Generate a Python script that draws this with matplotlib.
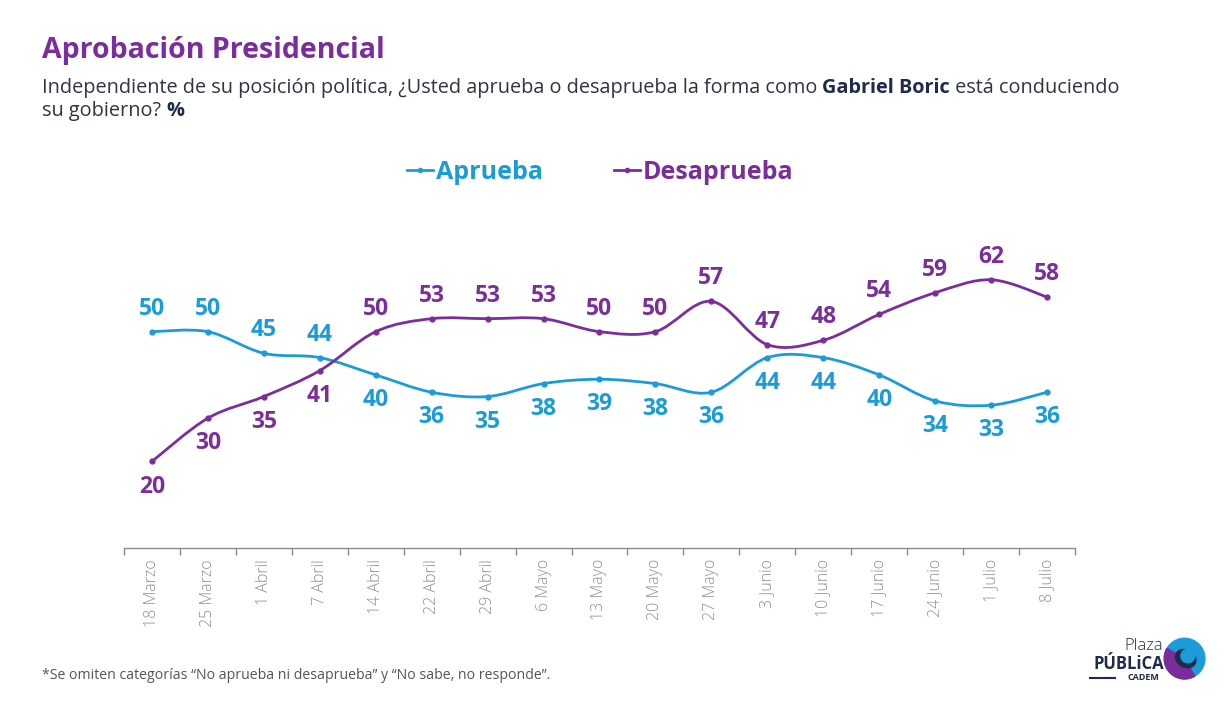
import numpy as np
import matplotlib
matplotlib.use('Agg')
import matplotlib.pyplot as plt
from matplotlib.path import Path
from matplotlib.patches import PathPatch, Circle, Ellipse, Wedge
from matplotlib.lines import Line2D

# Data
fechas = ['18 Marzo', '25 Marzo', '1 Abril', '7 Abril', '14 Abril', '22 Abril',
          '29 Abril', '6 Mayo', '13 Mayo', '20 Mayo', '27 Mayo', '3 Junio',
          '10 Junio', '17 Junio', '24 Junio', '1 Julio', '8 Julio']
aprueba = [50, 50, 45, 44, 40, 36, 35, 38, 39, 38, 36, 44, 44, 40, 34, 33, 36]
desaprueba = [20, 30, 35, 41, 50, 53, 53, 53, 50, 50, 57, 47, 48, 54, 59, 62, 58]

AZUL = '#1b9cd8'
MORADO = '#7b2d9c'
NAVY = '#1f2a4d'
FONT = 'Open Sans'

plt.rcParams['font.family'] = [FONT, 'DejaVu Sans']

fig = plt.figure(figsize=(12.32, 7.01), dpi=100)
ax = fig.add_axes([0.1006, 0.2183, 0.772, 0.432])


def smooth_path(xs, ys):
    # Bezier path (Catmull-Rom style control points) like a spreadsheet smoothed line
    xs = np.asarray(xs, float)
    ys = np.asarray(ys, float)
    verts = [(xs[0], ys[0])]
    codes = [Path.MOVETO]
    n = len(xs)
    for i in range(n - 1):
        x0, y0 = (xs[i - 1], ys[i - 1]) if i > 0 else (xs[i], ys[i])
        x3, y3 = (xs[i + 2], ys[i + 2]) if i + 2 < n else (xs[i + 1], ys[i + 1])
        c1 = (xs[i] + (xs[i + 1] - x0) / 6, ys[i] + (ys[i + 1] - y0) / 6)
        c2 = (xs[i + 1] - (x3 - xs[i]) / 6, ys[i + 1] - (y3 - ys[i]) / 6)
        verts += [c1, c2, (xs[i + 1], ys[i + 1])]
        codes += [Path.CURVE4] * 3
    return Path(verts, codes)


x = np.arange(len(fechas))
for vals, col in [(aprueba, AZUL), (desaprueba, MORADO)]:
    ax.add_patch(PathPatch(smooth_path(x, vals), facecolor='none', edgecolor=col,
                           lw=2.0, capstyle='round'))
    ax.plot(x, vals, 'o', color=col, ms=3.5, zorder=3)

# value labels
for i in range(len(fechas)):
    a, d = aprueba[i], desaprueba[i]
    if a > d:
        ta, td = 5.3, -5.8
    else:
        ta, td = -5.8, 5.3
    ax.text(i, a + ta, str(a), color=AZUL, fontsize=16.5, fontweight='bold',
            ha='center', va='center')
    ax.text(i, d + td, str(d), color=MORADO, fontsize=16.5, fontweight='bold',
            ha='center', va='center')

ax.set_xlim(-0.5, len(fechas) - 0.5)
ax.set_ylim(0, 70)
for s in ['top', 'right', 'left']:
    ax.spines[s].set_visible(False)
ax.spines['bottom'].set_color('#8c8c8c')
ax.spines['bottom'].set_linewidth(1.0)
ax.set_yticks([])
ax.set_xticks(x)
ax.set_xticklabels(fechas, rotation=90, fontsize=11.5, color='#8f8f8f')
ax.set_xticks(np.arange(-0.5, len(fechas), 1), minor=True)
ax.tick_params(axis='x', which='major', length=0, pad=8)
ax.tick_params(axis='x', which='minor', length=5, color='#8c8c8c', width=1.0)
for lab in ax.get_xticklabels():
    lab.set_fontweight('light')

# legend
handles = [Line2D([], [], color=AZUL, lw=2, marker='o', ms=3),
           Line2D([], [], color=MORADO, lw=2, marker='o', ms=3)]
fig.legend(handles, ['Aprueba', 'Desaprueba'], ncol=2, frameon=False,
           loc='center', bbox_to_anchor=(0.487, 0.754),
           prop={'family': FONT, 'weight': 'bold', 'size': 18},
           labelcolor=[AZUL, MORADO], handlelength=1.05, handletextpad=0.1,
           columnspacing=2.85, markerfirst=True)

# title and subtitle
fig.text(0.034, 0.928, 'Aprobación Presidencial', color=MORADO, fontsize=20.5,
         fontweight='bold', va='center')

fig.canvas.draw()
renderer = fig.canvas.get_renderer()


def line_of_parts(parts, x0, y0):
    xx = x0
    for txt, bold in parts:
        t = fig.text(xx, y0, txt, fontsize=14.3, va='center',
                     color=NAVY if bold else '#2e3440',
                     fontweight='bold' if bold else 'normal')
        bb = t.get_window_extent(renderer)
        xx += bb.width / fig.bbox.width


line_of_parts([('Independiente de su posición política, ¿Usted aprueba o desaprueba la forma como ', False),
               ('Gabriel Boric', True),
               (' está conduciendo', False)], 0.034, 0.875)
line_of_parts([('su gobierno? ', False), ('%', True)], 0.034, 0.842)

# footnote
fig.text(0.034, 0.036, '*Se omiten categorías “No aprueba ni desaprueba” y “No sabe, no responde”.',
         fontsize=10.2, color='#555555', va='center')

# logo
fig.text(0.944, 0.078, 'Plaza', fontsize=12, color=NAVY, ha='right', va='center',
         fontweight='light')
fig.text(0.945, 0.053, 'PÚBLiCA', fontsize=12, color=NAVY, ha='right', va='center',
         fontweight='bold')
fig.text(0.941, 0.033, 'CADEM', fontsize=6.5, color=NAVY, ha='right', va='center',
         fontweight='bold')
fig.add_artist(Line2D([0.885, 0.905], [0.033, 0.033], color=NAVY, lw=1.5,
                      transform=fig.transFigure))
lax = fig.add_axes([0.944, 0.030, 0.035, 0.061])
lax.set_xlim(-1, 1)
lax.set_ylim(-1, 1)
lax.set_aspect('equal')
lax.axis('off')
lax.add_patch(Circle((0, 0), 0.95, color=AZUL))
lax.add_patch(Wedge((0, 0), 0.95, 150, 300, color=MORADO))
lax.add_patch(Ellipse((0.05, 0.0), 1.0, 0.8, angle=-30, color=NAVY))
lax.add_patch(Circle((0.15, 0.12), 0.32, color=AZUL))

fig.savefig('out.png', dpi=100)
